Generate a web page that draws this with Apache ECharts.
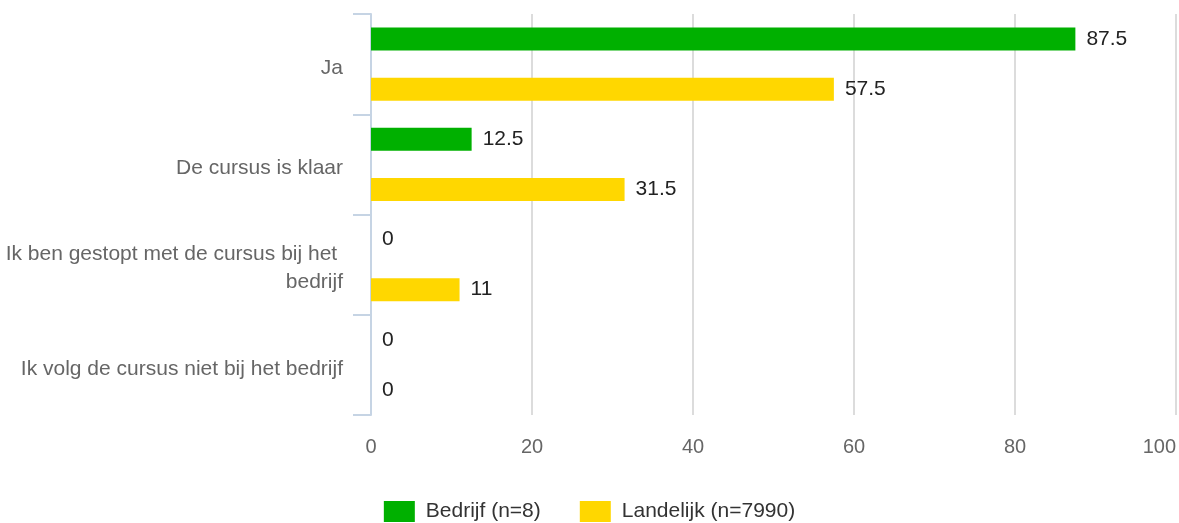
<!DOCTYPE html>
<html>
<head>
<meta charset="utf-8">
<script src="https://cdn.jsdelivr.net/npm/echarts@6/dist/echarts.min.js"></script>
<style>
  html, body { margin: 0; padding: 0; background: #fff; }
  #chart { width: 1179px; height: 523px; }
</style>
</head>
<body>
<div id="chart"></div>
<script>
// Answer categories (top to bottom)
const categories = [
  'Ja',
  'De cursus is klaar',
  'Ik ben gestopt met de cursus bij het bedrijf',
  'Ik volg de cursus niet bij het bedrijf'
];
// Percentages per group
const bedrijf = [87.5, 12.5, 0, 0];
const landelijk = [57.5, 31.5, 11, 0];
const seriesNames = ['Bedrijf (n=8)', 'Landelijk (n=7990)'];
// Value axis ticks
const axisMin = 0;
const axisMax = 100;
const axisStep = 20;

const FONT = 'Liberation Sans, Arial, sans-serif';

const chart = echarts.init(document.getElementById('chart'), null, { renderer: 'canvas' });

const valueLabel = {
  show: true,
  position: 'right',
  distance: 11,
  color: '#222',
  fontSize: 21,
  fontFamily: FONT
};

chart.setOption({
  animation: false,
  backgroundColor: '#fff',
  color: ['#00b000', '#ffd700'],
  grid: { left: 371, right: 3, top: 14, bottom: 108, containLabel: false },
  xAxis: {
    type: 'value',
    min: axisMin,
    max: axisMax,
    interval: axisStep,
    axisLine: { show: false },
    axisTick: { show: false },
    splitLine: { show: true, lineStyle: { color: '#dcdcdc', width: 2 } },
    axisLabel: {
      color: '#666',
      fontSize: 20,
      fontFamily: FONT,
      margin: 22,
      alignMaxLabel: 'right'
    }
  },
  yAxis: {
    type: 'category',
    inverse: true,
    data: categories,
    axisLine: { show: true, lineStyle: { color: '#c6d4e4', width: 2 } },
    axisTick: { show: true, length: 18, alignWithLabel: false, lineStyle: { color: '#c6d4e4', width: 2 } },
    splitLine: { show: false },
    axisLabel: {
      color: '#666',
      fontSize: 21,
      fontFamily: FONT,
      margin: 28,
      width: 340,
      overflow: 'break',
      lineHeight: 28,
      formatter: function (v) { return '{t|' + v + '}'; },
      rich: {
        t: {
          color: '#666',
          fontSize: 21,
          fontFamily: FONT,
          lineHeight: 28,
          padding: [8, 0, 0, 0]
        }
      }
    }
  },
  legend: {
    left: 'center',
    top: 496,
    itemWidth: 31,
    itemHeight: 21,
    itemGap: 39,
    icon: 'rect',
    textStyle: { color: '#333', fontSize: 21, fontFamily: FONT, padding: [0, 0, 0, 6] },
    data: seriesNames
  },
  series: [
    {
      name: seriesNames[0],
      type: 'bar',
      data: bedrijf,
      barWidth: 23,
      barGap: '118%',
      label: valueLabel
    },
    {
      name: seriesNames[1],
      type: 'bar',
      data: landelijk,
      barWidth: 23,
      barGap: '118%',
      label: valueLabel
    }
  ]
});
</script>
</body>
</html>
